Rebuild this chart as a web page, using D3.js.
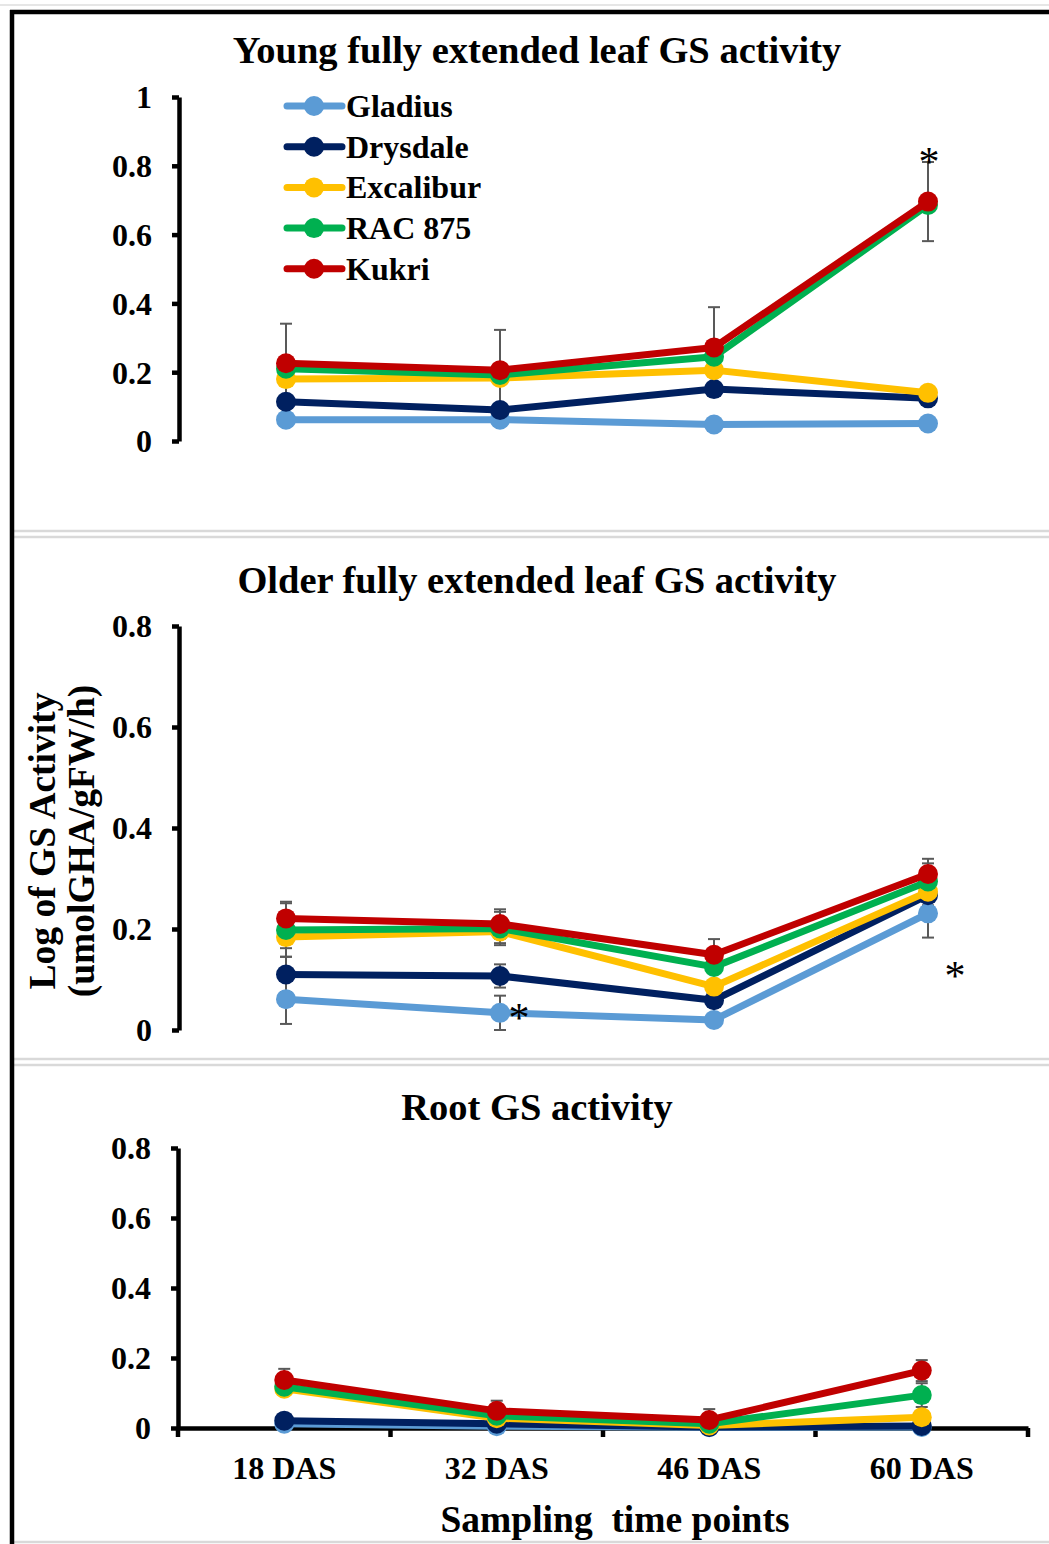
<!DOCTYPE html>
<html><head><meta charset="utf-8">
<script src="https://cdn.jsdelivr.net/npm/d3@7"></script>
<style>
html,body{margin:0;padding:0;background:#fff;}
svg text{font-family:"Liberation Serif","Times New Roman",serif;font-weight:bold;fill:#000;}
</style></head>
<body>
<svg id="chart" width="1049" height="1544"></svg>
<script>
// ---------- DATA ----------
const categories = ["18 DAS", "32 DAS", "46 DAS", "60 DAS"];
const cultivars = ["Gladius", "Drysdale", "Excalibur", "RAC 875", "Kukri"];
const colors = ["#5B9BD5", "#002060", "#FFC000", "#00B050", "#C00000"];

// Young fully extended leaf
const youngGladius   = [0.062, 0.062, 0.048, 0.051];
const youngDrysdale  = [0.114, 0.090, 0.151, 0.124];
const youngExcalibur = [0.180, 0.183, 0.206, 0.140];
const youngRAC875    = [0.210, 0.192, 0.245, 0.686];
const youngKukri     = [0.226, 0.206, 0.272, 0.696];
const youngErrKukri  = [0.115, 0.117, 0.117, 0.115];

// Older fully extended leaf
const olderGladius   = [0.061, 0.034, 0.020, 0.231];
const olderDrysdale  = [0.110, 0.107, 0.059, 0.267];
const olderExcalibur = [0.184, 0.195, 0.086, 0.274];
const olderRAC875    = [0.198, 0.201, 0.125, 0.294];
const olderKukri     = [0.221, 0.210, 0.149, 0.309];
const olderErrGladius   = [0.049, 0.034, 0.010, 0.048];
const olderErrDrysdale  = [0.035, 0.023, 0.010, 0.020];
const olderErrExcalibur = [0.022, 0.023, 0.010, 0.020];
const olderErrRAC875    = [0.053, 0.033, 0.010, 0.036];
const olderErrKukri     = [0.033, 0.029, 0.031, 0.030];

// Root
const rootGladius   = [0.012, 0.005, 0.002, 0.003];
const rootDrysdale  = [0.021, 0.012, 0.003, 0.006];
const rootExcalibur = [0.112, 0.028, 0.007, 0.031];
const rootRAC875    = [0.118, 0.035, 0.012, 0.094];
const rootKukri     = [0.137, 0.049, 0.023, 0.164];
const rootErrRAC875 = [0, 0, 0, 0.034];
const rootErrKukri  = [0.032, 0.029, 0.031, 0.030];

const youngTicks = [0, 0.2, 0.4, 0.6, 0.8, 1];
const olderTicks = [0, 0.2, 0.4, 0.6, 0.8];
const rootTicks  = [0, 0.2, 0.4, 0.6, 0.8];

const titles = ["Young fully extended leaf GS activity", "Older fully extended leaf GS activity", "Root GS activity"];
const yLabel1 = "Log of GS Activity";
const yLabel2 = "(umolGHA/gFW/h)";
const xTitle = "Sampling  time points";

// ---------- DRAW ----------
const svg = d3.select("#chart");
const FONT = 32;

// frame
const frame = svg.append("g");
[531, 537, 1059, 1065, 1542].forEach(y => {
  frame.append("line").attr("x1", 14).attr("x2", 1049).attr("y1", y).attr("y2", y)
    .attr("stroke", "#d9d9d9").attr("stroke-width", 2.5);
});
frame.append("line").attr("x1", 0).attr("x2", 1049).attr("y1", 5).attr("y2", 5)
  .attr("stroke", "#e6e6e6").attr("stroke-width", 2);
frame.append("line").attr("x1", 10).attr("x2", 1049).attr("y1", 12).attr("y2", 12)
  .attr("stroke", "#000").attr("stroke-width", 4.5);
frame.append("line").attr("x1", 12).attr("x2", 12).attr("y1", 10).attr("y2", 1544)
  .attr("stroke", "#000").attr("stroke-width", 4.5);

const panels = [
  { title: titles[0], titleY: 63, ticks: youngTicks, domain: [0, 1], range: [441, 97], xRange: [179, 1035],
    series: [youngGladius, youngDrysdale, youngExcalibur, youngRAC875, youngKukri],
    errors: [null, null, null, null, youngErrKukri], xAxis: false,
    stars: [{c: 3, v: 0.81, dx: 1, dy: 14}] },
  { title: titles[1], titleY: 593, ticks: olderTicks, domain: [0, 0.8], range: [1030, 626], xRange: [179, 1035],
    series: [olderGladius, olderDrysdale, olderExcalibur, olderRAC875, olderKukri],
    errors: [olderErrGladius, olderErrDrysdale, olderErrExcalibur, olderErrRAC875, olderErrKukri], xAxis: false,
    stars: [{c: 1, v: 0.034, dx: 19, dy: 19}, {c: 3, v: 0.115, dx: 27, dy: 18}] },
  { title: titles[2], titleY: 1120, ticks: rootTicks, domain: [0, 0.8], range: [1428, 1148], xRange: [178, 1028],
    series: [rootGladius, rootDrysdale, rootExcalibur, rootRAC875, rootKukri],
    errors: [null, null, null, rootErrRAC875, rootErrKukri], xAxis: true, stars: [] }
];

panels.forEach(p => {
  const g = svg.append("g");
  const y = d3.scaleLinear().domain(p.domain).range(p.range);
  const x = d3.scaleBand().domain(categories).range(p.xRange);
  const cx = c => x(c) + x.bandwidth() / 2;
  const axisX = p.xRange[0];

  // title
  g.append("text").attr("x", 537).attr("y", p.titleY).attr("text-anchor", "middle")
    .attr("font-size", 38.5).text(p.title);

  // y axis
  const ya = g.append("g").attr("transform", `translate(${axisX},0)`)
    .call(d3.axisLeft(y).tickValues(p.ticks).tickSize(7).tickSizeOuter(0).tickPadding(20)
      .tickFormat(d => d3.format("~g")(d)));
  ya.select(".domain").attr("stroke", "#000").attr("stroke-width", 4.5);
  ya.selectAll(".tick line").attr("stroke", "#000").attr("stroke-width", 4.5);
  ya.selectAll(".tick text").attr("font-size", FONT).attr("font-family", null).attr("dy", "0.34em");

  // x axis (root panel only)
  if (p.xAxis) {
    const xa = g.append("g").attr("transform", `translate(0,${y(0)})`)
      .call(d3.axisBottom(x).tickSize(0).tickSizeOuter(0).tickPadding(28));
    xa.select(".domain").attr("stroke", "#000").attr("stroke-width", 4.5);
    xa.selectAll(".tick text").attr("font-size", FONT).attr("font-family", null);
    const edges = categories.map(c => x(c)).concat([x.range()[1]]);
    xa.selectAll(".edge").data(edges).enter().append("line")
      .attr("x1", d => d).attr("x2", d => d).attr("y1", 0).attr("y2", 9)
      .attr("stroke", "#000").attr("stroke-width", 4.5);
  }

  // error bars
  p.errors.forEach((err, si) => {
    if (!err) return;
    const vals = p.series[si];
    categories.forEach((c, i) => {
      if (!err[i]) return;
      const x0 = cx(c), yt = y(vals[i] + err[i]), yb = y(Math.max(0, vals[i] - err[i]));
      g.append("line").attr("x1", x0).attr("x2", x0).attr("y1", yt).attr("y2", yb)
        .attr("stroke", "#595959").attr("stroke-width", 2);
      [yt, yb].forEach(yy => g.append("line").attr("x1", x0 - 6).attr("x2", x0 + 6)
        .attr("y1", yy).attr("y2", yy).attr("stroke", "#595959").attr("stroke-width", 2));
    });
  });

  // series
  const line = d3.line().x((d, i) => cx(categories[i])).y(d => y(d));
  p.series.forEach((vals, si) => {
    g.append("path").datum(vals).attr("d", line).attr("fill", "none")
      .attr("stroke", colors[si]).attr("stroke-width", 7).attr("stroke-linejoin", "round");
    g.selectAll(null).data(vals).enter().append("circle")
      .attr("cx", (d, i) => cx(categories[i])).attr("cy", d => y(d)).attr("r", 10)
      .attr("fill", colors[si]);
  });

  // significance stars
  p.stars.forEach(s => {
    g.append("text").attr("x", cx(categories[s.c]) + s.dx).attr("y", y(s.v) + s.dy)
      .attr("text-anchor", "middle").attr("font-size", 42).style("font-weight", "normal").text("*");
  });
});

// legend (in top panel)
const leg = svg.append("g");
cultivars.forEach((name, i) => {
  const yy = 106 + i * 40.7;
  leg.append("line").attr("x1", 287).attr("x2", 342).attr("y1", yy).attr("y2", yy)
    .attr("stroke", colors[i]).attr("stroke-width", 7).attr("stroke-linecap", "round");
  leg.append("circle").attr("cx", 314).attr("cy", yy).attr("r", 10).attr("fill", colors[i]);
  leg.append("text").attr("x", 346).attr("y", yy).attr("dy", "0.34em")
    .attr("font-size", FONT).text(name);
});

// y-axis title
const yl = svg.append("g").attr("transform", "translate(0,841) rotate(-90)");
yl.append("text").attr("x", 0).attr("y", 55).attr("text-anchor", "middle").attr("font-size", 37.5).text(yLabel1);
yl.append("text").attr("x", 0).attr("y", 94).attr("text-anchor", "middle").attr("font-size", 37.5).text(yLabel2);

// x-axis title
svg.append("text").attr("x", 615).attr("y", 1532).attr("text-anchor", "middle")
  .attr("font-size", 37.5).style("white-space", "pre").text(xTitle);
</script>
</body></html>
